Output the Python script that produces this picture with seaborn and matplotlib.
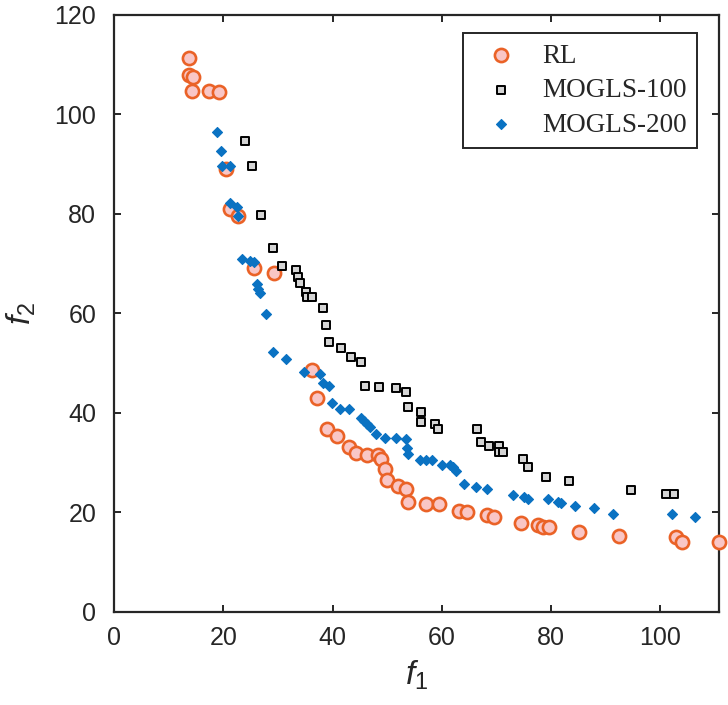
import pandas as pd
import matplotlib.pyplot as plt
import seaborn as sns

# Pareto fronts
rl_f1 = [13.7, 13.7, 14.4, 14.3, 17.4, 19.2, 20.5, 21.1, 22.7, 25.6, 29.2,
         36.3, 37.1, 38.9, 40.7, 42.9, 44.2, 46.2, 48.3, 48.8, 49.5, 49.9,
         51.9, 53.4, 53.8, 57.1, 59.4, 63.1, 64.6, 68.3, 69.5, 74.5, 77.6,
         78.5, 79.6, 85.1, 92.5, 102.8, 104.0, 110.8]
rl_f2 = [111.4, 107.9, 107.5, 104.7, 104.6, 104.4, 89.0, 81.0, 79.5, 69.2, 68.1,
         48.6, 43.0, 36.8, 35.4, 33.2, 32.0, 31.6, 31.6, 30.8, 28.8, 26.6,
         25.4, 24.7, 22.1, 21.7, 21.7, 20.3, 20.1, 19.5, 19.1, 17.9, 17.5,
         17.1, 17.1, 16.1, 15.3, 15.1, 14.1, 14.1]

m100_f1 = [24.0, 25.3, 26.9, 29.1, 30.8, 33.3, 33.7, 34.1, 35.2, 35.3, 36.3,
           38.3, 38.8, 39.4, 41.6, 43.4, 45.2, 46.0, 48.4, 51.6, 53.5, 53.8,
           56.2, 56.2, 58.8, 59.2, 66.5, 67.2, 68.7, 70.5, 70.5, 71.2, 74.9,
           75.8, 79.1, 83.2, 94.7, 101.1, 102.6]
m100_f2 = [94.7, 89.6, 79.8, 73.2, 69.5, 68.7, 67.3, 66.1, 64.3, 63.3, 63.3,
           61.1, 57.7, 54.3, 53.1, 51.3, 50.3, 45.4, 45.2, 45.0, 44.2, 41.2,
           40.2, 38.2, 37.8, 36.8, 36.8, 34.2, 33.4, 33.4, 32.2, 32.2, 30.8,
           29.1, 27.1, 26.3, 24.5, 23.7, 23.7]

m200_f1 = [18.9, 19.6, 19.8, 21.1, 21.2, 22.5, 22.7, 23.4, 24.9, 25.6, 26.2,
           26.4, 26.6, 27.8, 29.0, 31.5, 34.8, 37.7, 38.3, 39.4, 39.9, 41.4,
           43.0, 45.1, 45.8, 46.3, 46.9, 48.0, 49.5, 51.6, 53.5, 53.7, 53.8,
           55.9, 57.1, 58.2, 60.1, 61.4, 62.1, 62.6, 64.1, 66.3, 68.3, 73.1,
           75.1, 75.8, 79.5, 81.3, 81.9, 84.4, 87.9, 91.4, 102.2, 106.4]
m200_f2 = [96.5, 92.7, 89.6, 89.6, 82.2, 81.4, 79.6, 71.0, 70.6, 70.4, 65.9,
           64.9, 64.1, 59.9, 52.3, 50.9, 48.2, 47.8, 46.0, 45.4, 42.0, 40.8,
           40.8, 39.0, 38.4, 37.8, 37.2, 35.8, 35.0, 35.0, 34.8, 33.0, 31.8,
           30.6, 30.6, 30.6, 29.5, 29.5, 29.1, 28.3, 25.7, 25.1, 24.7, 23.5,
           23.1, 22.7, 22.7, 22.1, 21.9, 21.3, 20.9, 19.7, 19.7, 19.1]

x_ticks = [0, 20, 40, 60, 80, 100]
y_ticks = [0, 20, 40, 60, 80, 100, 120]

sns.set_theme(style="ticks")
plt.rcParams['font.family'] = ['Liberation Sans', 'DejaVu Sans']
plt.rcParams['mathtext.fontset'] = 'custom'
plt.rcParams['mathtext.it'] = 'Liberation Sans:italic'
plt.rcParams['mathtext.rm'] = 'Liberation Sans'

df_rl = pd.DataFrame({'f1': rl_f1, 'f2': rl_f2})
df_100 = pd.DataFrame({'f1': m100_f1, 'f2': m100_f2})
df_200 = pd.DataFrame({'f1': m200_f1, 'f2': m200_f2})

fig = plt.figure(figsize=(7.28, 7.05), dpi=100)
ax = fig.add_axes([0.157, 0.132, 0.831, 0.847])

sns.scatterplot(data=df_rl, x='f1', y='f2', ax=ax, marker='o', s=90,
                color='#f9c6c6', edgecolor='#ea6227', linewidth=1.9,
                label='RL', zorder=3, clip_on=False)
sns.scatterplot(data=df_100, x='f1', y='f2', ax=ax, marker='s', s=26,
                color='#d4d4d4', edgecolor='black', linewidth=1.4,
                label='MOGLS-100', zorder=4, clip_on=False)
sns.scatterplot(data=df_200, x='f1', y='f2', ax=ax, marker='D', s=26,
                color='#0a72c2', edgecolor='#0a72c2', linewidth=0.8,
                label='MOGLS-200', zorder=5, clip_on=False)

ax.set_xlim(0, max(rl_f1))
ax.set_ylim(0, 120)
ax.set_xticks(x_ticks)
ax.set_yticks(y_ticks)
ax.tick_params(direction='in', length=5, width=1.4, labelsize=18,
               top=True, right=True, colors='#262626')
ax.tick_params(axis='x', pad=10)
ax.tick_params(axis='y', pad=13)
for sp in ax.spines.values():
    sp.set_linewidth(1.6)
    sp.set_color('#262626')

ax.set_xlabel('$f_1$', fontsize=24, color='#262626', labelpad=6)
ax.set_ylabel('$f_2$', fontsize=24, color='#262626', labelpad=12)

leg = ax.legend(loc='upper right', bbox_to_anchor=(0.964, 0.970),
                borderaxespad=0, fancybox=False, edgecolor='#262626',
                prop={'family': 'Liberation Serif', 'size': 19.5},
                handletextpad=0.5, borderpad=0.4, labelspacing=0.35,
                handlelength=2.0)
leg.get_frame().set_linewidth(1.4)
leg.get_frame().set_alpha(1)

fig.savefig('out.png', dpi=100)
